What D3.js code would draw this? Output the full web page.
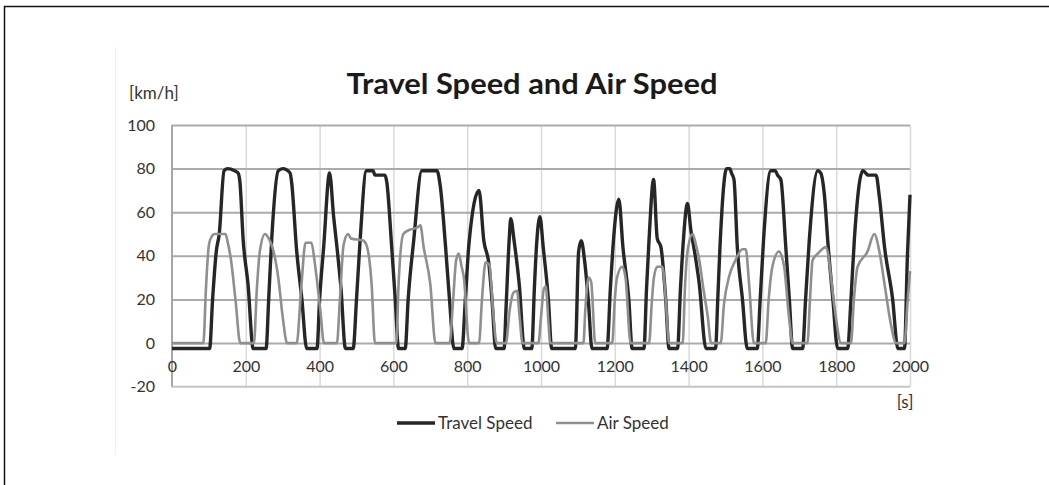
<!DOCTYPE html>
<html>
<head>
<meta charset="utf-8">
<script src="https://cdn.jsdelivr.net/npm/d3@7"></script>
<style>
  body { margin: 0; background: #fff; }
  svg text { font-family: Lato, "Open Sans", sans-serif; }
</style>
</head>
<body>
<script>
var width = 1049,
    height = 485;

// time points [s] and values [km/h]
var travelTime = [0, 102, 110, 120, 128, 141, 150, 170, 179, 184, 193, 206, 220,
  255, 262, 270, 288, 300, 320, 324, 338, 352, 365,
  393, 400, 411, 427, 438, 447, 458, 470,
  491, 500, 509, 527, 545, 550, 577, 582, 595, 605, 614,
  632, 640, 655, 677, 718, 727, 741, 752, 764,
  786, 795, 805, 832, 845, 859, 868, 877,
  900, 905, 914, 918, 927, 941, 955,
  975, 982, 988, 997, 1006, 1020, 1029,
  1093, 1102, 1109, 1118, 1129, 1138,
  1179, 1188, 1195, 1211, 1222, 1238, 1247,
  1279, 1286, 1293, 1305, 1315, 1325, 1338, 1347,
  1370, 1378, 1385, 1397, 1406, 1418, 1429, 1447,
  1473, 1479, 1485, 1503, 1512, 1516, 1523, 1532, 1546, 1559,
  1586, 1594, 1603, 1623, 1635, 1641, 1650, 1663, 1673, 1682,
  1709, 1717, 1727, 1750, 1758, 1768, 1778, 1791, 1804,
  1831, 1840, 1849, 1872, 1880, 1885, 1908, 1917, 1931, 1953, 1967,
  1985, 1993, 2000];
var travelSpeed = [-2.5, -2.5, 20, 42, 50, 79, 80, 79, 78, 74, 47, 27, -2.5,
  -2.5, 20, 47, 79, 80, 78, 74, 42, 20, -2.5,
  -2.5, 20, 44, 78, 58, 44, 25, -2.5,
  -2.5, 20, 45, 79, 79, 77, 77, 74, 45, 20, -2.5,
  -2.5, 20, 47, 79, 79, 72, 45, 20, -2.5,
  -2.5, 20, 46, 70, 47, 36, 18, -2.5,
  -2.5, 15, 48, 57, 47, 27, -2.5,
  -2.5, 25, 45, 58, 44, 20, -2.5,
  -2.5, 42, 47, 38, 18, -2.5,
  -2.5, 25, 44, 66, 44, 20, -2.5,
  -2.5, 25, 48, 75, 48, 44, 20, -2.5,
  -2.5, 25, 45, 64, 52, 40, 27, -2.5,
  -2.5, 20, 44, 80, 80, 78, 75, 44, 20, -2.5,
  -2.5, 20, 47, 79, 79, 77, 75, 45, 20, -2.5,
  -2.5, 20, 47, 79, 78, 68, 45, 20, -2.5,
  -2.5, 20, 47, 79, 78, 77, 77, 67, 44, 20, -2.5,
  -2.5, 40, 68];

var airTime = [0, 85, 92, 100, 108, 115, 145, 150, 160, 172, 185,
  222, 230, 238, 252, 262, 272, 288, 300, 312,
  338, 350, 362, 378, 386, 392, 402, 412,
  447, 455, 465, 477, 485, 518, 527, 541, 550,
  608, 614, 627, 645, 665, 673, 682, 700, 714,
  752, 762, 770, 777, 785, 791, 805,
  832, 840, 850, 860, 870, 880,
  905, 915, 925, 935, 942, 950,
  993, 1000, 1008, 1013, 1020, 1025,
  1115, 1120, 1129, 1136, 1147,
  1193, 1200, 1206, 1220, 1229, 1243,
  1293, 1300, 1306, 1315, 1329, 1338, 1347,
  1384, 1390, 1397, 1411, 1420, 1429, 1440, 1452, 1461,
  1487, 1496, 1509, 1527, 1546, 1555, 1564, 1577,
  1609, 1617, 1627, 1645, 1652, 1659, 1672, 1682,
  1722, 1729, 1736, 1750, 1772, 1779, 1786, 1799, 1813,
  1840, 1848, 1858, 1885, 1903, 1917, 1931, 1949, 1962,
  1985, 1993, 2000];
var airSpeed = [0, 0, 25, 45, 49, 50, 50, 47, 38, 20, 0,
  0, 25, 42, 50, 48, 44, 30, 12, 0,
  0, 25, 46, 46, 38, 30, 15, 0,
  0, 20, 45, 50, 48, 47, 45, 27, 0,
  0, 27, 50, 52, 53, 54, 44, 27, 0,
  0, 20, 38, 41, 35, 30, 0,
  0, 20, 37, 36, 15, 0,
  0, 15, 23, 24, 12, 0,
  0, 12, 25, 26, 10, 0,
  0, 15, 30, 28, 0,
  0, 20, 30, 35, 30, 0,
  0, 18, 30, 35, 35, 20, 0,
  0, 25, 42, 50, 45, 38, 25, 12, 0,
  0, 18, 30, 38, 43, 43, 27, 0,
  0, 20, 35, 42, 40, 35, 12, 0,
  0, 20, 38, 41, 44, 40, 30, 12, 0,
  0, 20, 35, 42, 50, 42, 27, 8, 0,
  0, 18, 33];

var xTicks = [0, 200, 400, 600, 800, 1000, 1200, 1400, 1600, 1800, 2000];
var yTicks = [-20, 0, 20, 40, 60, 80, 100];

var travelColor = "#262626",
    airColor = "#8f8f8f";

var svg = d3.select("body").append("svg")
    .attr("width", width)
    .attr("height", height);

// outer frame (right and bottom edges fall outside the picture)
svg.append("rect")
    .attr("x", 4.5)
    .attr("y", 6.5)
    .attr("width", 1100)
    .attr("height", 600)
    .attr("fill", "none")
    .attr("stroke", "#111")
    .attr("stroke-width", 1.5);

// faint edge of the pasted chart
svg.append("line")
    .attr("x1", 115.5).attr("x2", 115.5)
    .attr("y1", 47).attr("y2", 455)
    .attr("stroke", "#f1f1f1");

var x = d3.scaleLinear().domain([0, 2000]).range([172, 910]);
var y = d3.scaleLinear().domain([-20, 100]).range([386.7, 125]);

var plain = function(d) { return String(d); };

// vertical grid
svg.append("g")
    .attr("transform", "translate(0," + y(-20) + ")")
    .call(d3.axisBottom(x).tickValues(xTicks.slice(1)).tickSize(y(100) - y(-20)).tickFormat(""))
    .call(function(g) { g.select(".domain").remove(); })
    .selectAll("line")
    .attr("stroke", "#d9d9d9")
    .attr("stroke-width", 1.5);

// horizontal grid
svg.append("g")
    .attr("transform", "translate(" + x(0) + ",0)")
    .call(d3.axisLeft(y).tickValues(yTicks.slice(1)).tickSize(-(x(2000) - x(0))).tickFormat(""))
    .call(function(g) { g.select(".domain").remove(); })
    .selectAll("line")
    .attr("stroke", "#ababab")
    .attr("stroke-width", 2);

// bottom edge at -20 and left axis
svg.append("line")
    .attr("x1", x(0)).attr("x2", x(2000))
    .attr("y1", y(-20)).attr("y2", y(-20))
    .attr("stroke", "#c4c4c4")
    .attr("stroke-width", 2);
svg.append("line")
    .attr("x1", x(0)).attr("x2", x(0))
    .attr("y1", y(100)).attr("y2", y(-20))
    .attr("stroke", "#a6a6a6")
    .attr("stroke-width", 2);

// y labels
svg.append("g")
    .attr("transform", "translate(" + x(0) + ",0)")
    .call(d3.axisLeft(y).tickValues(yTicks).tickFormat(plain).tickSize(0).tickPadding(17))
    .call(function(g) { g.select(".domain").remove(); })
    .selectAll("text")
    .attr("font-family", "Lato, sans-serif")
    .attr("font-size", 16)
    .attr("fill", "#333");

// x labels, sitting under the zero line
svg.append("g")
    .attr("transform", "translate(0," + y(0) + ")")
    .call(d3.axisBottom(x).tickValues(xTicks).tickFormat(plain).tickSize(0).tickPadding(18))
    .call(function(g) { g.select(".domain").remove(); })
    .selectAll("text")
    .attr("font-family", "Lato, sans-serif")
    .attr("font-size", 16)
    .attr("fill", "#333");

function makeLine(times, values) {
  var pts = times.map(function(t, i) { return [t, values[i]]; });
  return d3.line()
      .x(function(d) { return x(d[0]); })
      .y(function(d) { return y(d[1]); })
      .curve(d3.curveMonotoneX)(pts);
}

svg.append("path")
    .attr("d", makeLine(travelTime, travelSpeed))
    .attr("fill", "none")
    .attr("stroke", travelColor)
    .attr("stroke-width", 3.4)
    .attr("stroke-linejoin", "round");

svg.append("path")
    .attr("d", makeLine(airTime, airSpeed))
    .attr("fill", "none")
    .attr("stroke", airColor)
    .attr("stroke-width", 2.6)
    .attr("stroke-linejoin", "round");

// title and units
svg.append("text")
    .attr("x", 532)
    .attr("y", 94)
    .attr("text-anchor", "middle")
    .attr("font-size", 29)
    .attr("font-weight", "bold")
    .attr("fill", "#1a1a1a")
    .attr("textLength", 371)
    .attr("lengthAdjust", "spacingAndGlyphs")
    .text("Travel Speed and Air Speed");

svg.append("text")
    .attr("x", 129)
    .attr("y", 99)
    .attr("font-size", 17)
    .attr("fill", "#333")
    .text("[km/h]");

svg.append("text")
    .attr("x", 905)
    .attr("y", 408)
    .attr("text-anchor", "middle")
    .attr("font-size", 17)
    .attr("fill", "#333")
    .text("[s]");

// legend
var legend = [["Travel Speed", travelColor, 3.4, 397], ["Air Speed", airColor, 2.6, 556]];
legend.forEach(function(l) {
  svg.append("line")
      .attr("x1", l[3]).attr("x2", l[3] + 38)
      .attr("y1", 423).attr("y2", 423)
      .attr("stroke", l[1])
      .attr("stroke-width", l[2]);
  svg.append("text")
      .attr("x", l[3] + 41)
      .attr("y", 429)
      .attr("font-size", 17)
      .attr("fill", "#333")
      .text(l[0]);
});
</script>
</body>
</html>
